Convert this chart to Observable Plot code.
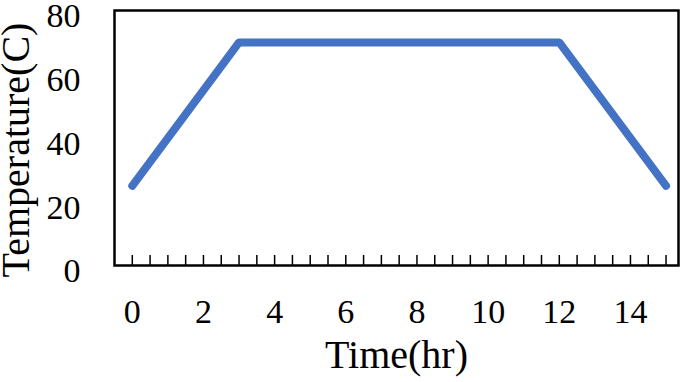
<!DOCTYPE html>
<html>
<head>
<meta charset="utf-8">
<script src="https://cdn.jsdelivr.net/npm/d3@7"></script>
<script src="https://cdn.jsdelivr.net/npm/@observablehq/plot@0.6"></script>
<style>
  html, body { margin: 0; padding: 0; background: #fff; }
</style>
</head>
<body>
<div id="chart"></div>
<script>
const timeHr = [0, 3, 12, 15];
const temperatureC = [25, 70, 70, 25];
const xTickLabels = [0, 2, 4, 6, 8, 10, 12, 14];
const yTickLabels = [0, 20, 40, 60, 80];
const xMinorTicks = d3.range(0, 15.01, 0.5);
const xTitle = "Time(hr)";
const yTitle = "Temperature(C)";

const data = timeHr.map((t, i) => ({time: t, temp: temperatureC[i]}));

const chart = Plot.plot({
  width: 685,
  height: 382,
  marginLeft: 114,
  marginRight: 7,
  marginTop: 10,
  marginBottom: 117,
  style: {fontFamily: "'Liberation Serif', 'Times New Roman', serif", background: "#fff", color: "#000"},
  x: {domain: [-0.5, 15.35]},
  y: {domain: [0, 80]},
  marks: [
    Plot.axisX(xMinorTicks, {tickSize: -10, text: null, label: null, strokeWidth: 1.5}),
    Plot.axisX(xTickLabels, {tickSize: 0, tickPadding: 33, fontSize: 34, label: null}),
    Plot.axisY(yTickLabels, {tickSize: 0, tickPadding: 34, fontSize: 34, dy: 6, label: null}),
    Plot.text([yTitle], {frameAnchor: "left", textAnchor: "middle", lineAnchor: "middle", rotate: -90, dx: -98, dy: 12, fontSize: 40, fill: "#000"}),
    Plot.text([xTitle], {frameAnchor: "bottom", lineAnchor: "middle", dy: 90, fontSize: 40, fill: "#000"}),
    Plot.line(data, {x: "time", y: "temp", stroke: "#4472C4", strokeWidth: 8, strokeLinecap: "round", strokeLinejoin: "round"}),
    Plot.frame({stroke: "#000", strokeWidth: 2.5})
  ]
});
document.getElementById("chart").appendChild(chart);
</script>
</body>
</html>
